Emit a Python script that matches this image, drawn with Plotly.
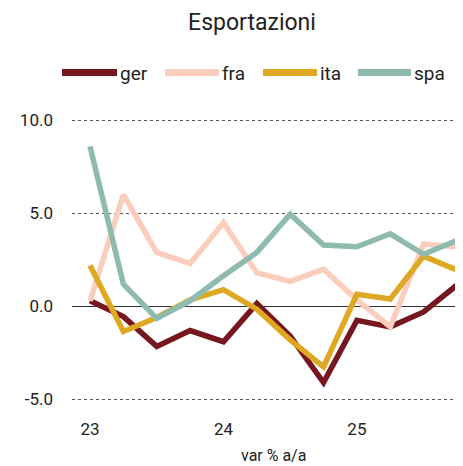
import plotly.graph_objects as go

quarters = list(range(12))
tick_vals = [0, 4, 8]
tick_labels = ["23", "24", "25"]

series_names = ["ger", "fra", "ita", "spa"]
ger = [0.3, -0.55, -2.15, -1.3, -1.9, 0.15, -1.6, -4.1, -0.75, -1.1, -0.3, 1.15]
fra = [0.3, 6.0, 2.9, 2.3, 4.5, 1.8, 1.35, 2.0, 0.35, -1.1, 3.35, 3.2]
ita = [2.2, -1.35, -0.6, 0.35, 0.9, -0.15, -1.8, -3.25, 0.65, 0.4, 2.7, 1.95]
spa = [8.6, 1.2, -0.65, 0.3, 1.65, 2.9, 4.95, 3.3, 3.2, 3.9, 2.8, 3.55]
series_values = [ger, fra, ita, spa]
colors = ["#76161f", "#fbcdbc", "#dfa823", "#8fbbaf"]

OFF = 8  # page body margin
W, H = 463 - OFF, 466 - OFF
L, R, T, B = 72 - OFF, 0, 111 - OFF, 61
pw, ph = W - L - R, H - T - B

def px_x(p):
    return (p - OFF - L) / pw

def px_y(p):
    return (H - B - (p - OFF)) / ph

fig = go.Figure()
for name, vals, col in zip(series_names, series_values, colors):
    fig.add_trace(go.Scatter(x=quarters, y=vals, mode="lines", name=name,
                             line=dict(color=col, width=5.5), showlegend=False))

# custom legend
leg_items = [(62, 117), (165, 219), (263, 317), (358, 411)]
for (x0, x1), name, col in zip(leg_items, series_names, colors):
    fig.add_shape(type="line", xref="paper", yref="paper",
                  x0=px_x(x0), x1=px_x(x1), y0=px_y(72.5), y1=px_y(72.5),
                  line=dict(color=col, width=7))
    fig.add_annotation(text=name, xref="paper", yref="paper",
                       x=px_x(x1 + 1), y=px_y(73), xanchor="left", yanchor="middle",
                       showarrow=False, font=dict(size=19, color="#222"))

fig.add_annotation(text="var % a/a", xref="paper", yref="paper",
                   x=px_x(273), y=px_y(455.5), xanchor="center", yanchor="middle",
                   showarrow=False, font=dict(size=16, color="#222"))

fig.update_layout(
    width=W, height=H,
    margin=dict(l=L, r=R, t=T, b=B),
    plot_bgcolor="white", paper_bgcolor="white",
    font=dict(family="Roboto", color="#222"),
    title=dict(text="Esportazioni", xref="container", x=(252 - OFF) / W, xanchor="center",
               yref="container", y=1 - (22 - OFF) / H, yanchor="middle",
               font=dict(size=23, color="#222")),
    showlegend=False,
)
fig.update_xaxes(range=[-0.54, 11.18], tickvals=tick_vals, ticktext=tick_labels,
                 showgrid=False, zeroline=False, showline=False,
                 tickfont=dict(size=17, color="#222"), ticks="",
                 ticklabelstandoff=12)
fig.update_yaxes(range=[-5.3, 10.5], tickvals=[-5, 0, 5, 10],
                 ticktext=["-5.0", "0.0", "5.0", "10.0"],
                 showgrid=True, gridcolor="#555", griddash="dot", gridwidth=1,
                 zeroline=True, zerolinecolor="#333", zerolinewidth=1,
                 showline=False, ticks="", tickfont=dict(size=17, color="#222"),
                 ticklabelstandoff=18)

fig.write_html("out.html")
